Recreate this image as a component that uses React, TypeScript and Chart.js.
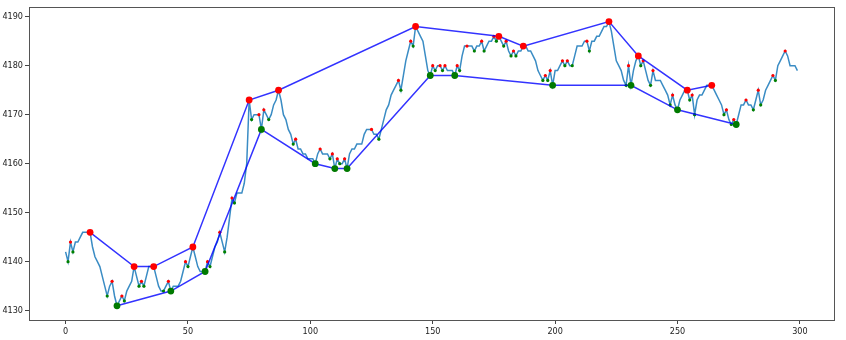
import React, { useEffect, useRef } from "react";
import { Chart, registerables } from "chart.js";

Chart.register(...registerables);

const price: number[] = [
  4142, 4140, 4144, 4142, 4144, 4144, 4145, 4146, 4146, 4146,
  4146, 4143, 4141, 4140, 4139, 4137, 4135, 4133, 4135, 4136,
  4133, 4131, 4132, 4133, 4132, 4134, 4135, 4136, 4139, 4137,
  4135, 4136, 4135, 4137, 4139, 4139, 4139, 4137, 4135, 4134,
  4134, 4135, 4136, 4134, 4135, 4135, 4135, 4136, 4138, 4140,
  4139, 4141, 4143, 4141, 4139, 4138, 4138, 4138, 4140, 4139,
  4141, 4143, 4144, 4146, 4144, 4142, 4145, 4149, 4153, 4152,
  4154, 4154, 4154, 4156, 4160, 4173, 4169, 4170, 4170, 4170,
  4167, 4171, 4170, 4169, 4170, 4172, 4173, 4175, 4173, 4170,
  4169, 4167, 4166, 4164, 4165, 4163, 4163, 4162, 4162, 4161,
  4161, 4161, 4160, 4162, 4163, 4162, 4162, 4162, 4161, 4162,
  4159, 4161, 4160, 4160, 4161, 4159, 4162, 4163, 4163, 4164,
  4164, 4164, 4166, 4167, 4167, 4167, 4166, 4166, 4165, 4167,
  4169, 4171, 4172, 4174, 4175, 4176, 4177, 4175, 4178, 4181,
  4183, 4185, 4184, 4188, 4187, 4186, 4185, 4182, 4179, 4178,
  4180, 4179, 4180, 4180, 4179, 4180, 4179, 4179, 4179, 4178,
  4180, 4179, 4182, 4184, 4184, 4184, 4184, 4183, 4184, 4184,
  4185, 4183, 4184, 4185, 4185, 4186, 4185, 4186, 4185, 4184,
  4185, 4183, 4182, 4183, 4182, 4183, 4183, 4184, 4184, 4183,
  4183, 4182, 4181, 4179, 4178, 4177, 4178, 4177, 4179, 4176,
  4179, 4179, 4180, 4181, 4180, 4181, 4180, 4180, 4182, 4184,
  4184, 4184, 4185, 4185, 4183, 4185, 4185, 4186, 4186, 4187,
  4188, 4188, 4189, 4187, 4184, 4181, 4180, 4179, 4177, 4176,
  4180, 4176, 4179, 4181, 4182, 4180, 4181, 4179, 4177, 4176,
  4179, 4177, 4177, 4177, 4176, 4175, 4174, 4172, 4174, 4172,
  4171, 4173, 4174, 4175, 4175, 4173, 4174, 4170, 4173, 4174,
  4174, 4175, 4176, 4176, 4176, 4175, 4174, 4173, 4172, 4170,
  4171, 4169, 4168, 4169, 4168, 4170, 4172, 4172, 4173, 4172,
  4172, 4171, 4173, 4175, 4172, 4173, 4175, 4176, 4177, 4178,
  4177, 4180, 4181, 4182, 4183, 4182, 4180, 4180, 4180, 4179,
];

// zigzag swing highs / lows (big markers joined by blue lines)
const highIdx: number[] = [10, 28, 36, 52, 75, 87, 143, 177, 187, 222, 234, 254, 264];
const lowIdx: number[] = [21, 43, 57, 80, 102, 110, 115, 149, 159, 199, 231, 250, 274];

// small local extrema markers
const peakIdx: number[] = [
  2, 19, 23, 31, 42, 49, 58, 63, 68, 79, 81, 94, 104, 109, 111, 114, 125, 136, 141,
  150, 153, 155, 160, 164, 170, 175, 180, 183, 196, 198, 203, 205, 213, 230, 236,
  240, 248, 256, 270, 273, 278, 283, 289, 294,
];
const troughIdx: number[] = [
  1, 3, 17, 24, 30, 32, 40, 50, 59, 65, 69, 76, 83, 93, 108, 112, 128, 137, 142,
  151, 154, 161, 167, 171, 176, 179, 182, 184, 195, 197, 204, 207, 214, 229, 235,
  239, 247, 255, 257, 269, 272, 281, 284, 290,
];

const xTicks: number[] = [0, 50, 100, 150, 200, 250, 300];
const yTicks: number[] = [4130, 4140, 4150, 4160, 4170, 4180, 4190];

const pts = (idx: number[]) => idx.map((i) => ({ x: i, y: price[i] }));

const framePlugin = {
  id: "frame",
  afterDraw(chart: any) {
    const { ctx, chartArea } = chart;
    ctx.save();
    ctx.strokeStyle = "#555";
    ctx.lineWidth = 1;
    ctx.strokeRect(
      Math.round(chartArea.left) + 0.5,
      Math.round(chartArea.top) + 0.5,
      Math.round(chartArea.right - chartArea.left),
      Math.round(chartArea.bottom - chartArea.top)
    );
    ctx.restore();
  },
};

export default function App() {
  const ref = useRef<HTMLCanvasElement | null>(null);

  useEffect(() => {
    if (!ref.current) return;
    const font = { family: "'DejaVu Sans Condensed', 'DejaVu Sans', sans-serif", size: 9 };
    const chart = new Chart(ref.current, {
      type: "line",
      data: {
        datasets: [
          {
            label: "price",
            data: price.map((v, i) => ({ x: i, y: v })),
            borderColor: "#3a8cc4",
            borderWidth: 1.5,
            pointRadius: 0,
            tension: 0,
            order: 6,
          },
          {
            label: "peaks",
            data: pts(peakIdx),
            showLine: false,
            pointRadius: 1.6,
            pointBackgroundColor: "#ff0000",
            pointBorderWidth: 0,
            order: 5,
          },
          {
            label: "troughs",
            data: pts(troughIdx),
            showLine: false,
            pointRadius: 1.6,
            pointBackgroundColor: "#008000",
            pointBorderWidth: 0,
            order: 5,
          },
          {
            label: "highs",
            data: pts(highIdx),
            borderColor: "rgba(0,0,255,0.8)",
            borderWidth: 1.5,
            pointRadius: 0,
            tension: 0,
            order: 3,
          },
          {
            label: "lows",
            data: pts(lowIdx),
            borderColor: "rgba(0,0,255,0.8)",
            borderWidth: 1.5,
            pointRadius: 0,
            tension: 0,
            order: 3,
          },
          {
            label: "highPts",
            data: pts(highIdx),
            showLine: false,
            pointRadius: 3.4,
            pointBackgroundColor: "#ff0000",
            pointBorderWidth: 0,
            order: 1,
          },
          {
            label: "lowPts",
            data: pts(lowIdx),
            showLine: false,
            pointRadius: 3.4,
            pointBackgroundColor: "#007a00",
            pointBorderWidth: 0,
            order: 1,
          },
        ],
      },
      options: {
        animation: false,
        responsive: false,
        events: [],
        layout: { padding: { top: 5, right: 12, left: 0, bottom: 0 } },
        plugins: { legend: { display: false }, tooltip: { enabled: false } },
        scales: {
          x: {
            type: "linear",
            min: -14.95,
            max: 313.95,
            afterBuildTicks: (s: any) => {
              s.ticks = xTicks.map((v) => ({ value: v }));
            },
            afterFit: (s: any) => {
              s.height = 20;
            },
            grid: { display: true, drawOnChartArea: false, drawTicks: true, tickLength: 4, tickColor: "#444" },
            border: { display: false },
            ticks: { color: "#222", font, padding: 2, maxRotation: 0, callback: (v: any) => String(v) },
          },
          y: {
            type: "linear",
            min: 4128.1,
            max: 4191.9,
            afterBuildTicks: (s: any) => {
              s.ticks = yTicks.map((v) => ({ value: v }));
            },
            afterFit: (s: any) => {
              s.width = 29;
            },
            grid: { display: true, drawOnChartArea: false, drawTicks: true, tickLength: 4, tickColor: "#444" },
            border: { display: false },
            ticks: { color: "#222", font, padding: 2, callback: (v: any) => String(v) },
          },
        },
      },
      plugins: [framePlugin],
    });
    return () => chart.destroy();
  }, []);

  return (
    <div style={{ position: "fixed", left: 0, top: 0, width: 846, height: 340, background: "#fff" }}>
      <canvas ref={ref} width={846} height={340} style={{ display: "block" }} />
    </div>
  );
}
